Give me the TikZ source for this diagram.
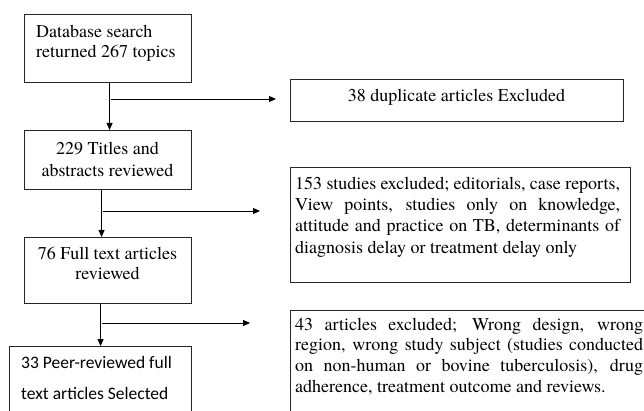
\documentclass[tikz,border=0pt]{standalone}
\usepackage{fontspec}
\setmainfont{texgyretermes}[Extension=.otf, UprightFont=*-regular, BoldFont=*-bold, ItalicFont=*-italic, BoldItalicFont=*-bolditalic]
\newfontfamily\tnrfont{texgyretermes}[Extension=.otf, UprightFont=*-regular]
\newfontfamily\calibfont{Carlito}
\usetikzlibrary{arrows.meta}
\begin{document}
\begin{tikzpicture}[x=1pt,y=-1pt,
  box/.style={draw=black!85, line width=1.1pt, inner sep=0pt, anchor=north west, rectangle},
  serif/.style={inner sep=0pt, font={\tnrfont\fontsize{18}{21}\selectfont}},
  arr/.style={draw=black, line width=0.9pt, -{Triangle[length=7pt,width=6pt]}}]
\useasboundingbox (0,0) rectangle (644,411);
\clip (0,0) rectangle (644,411);
\fill[white] (0,0) rectangle (644,411);

% boxes
\node[box, minimum width=167pt, minimum height=68pt] (b1) at (24,14) {};
\node[box, minimum width=333pt, minimum height=42pt] (b38) at (290,79) {};
\node[box, minimum width=167pt, minimum height=59pt] (b2) at (24,130) {};
\node[box, minimum width=340pt, minimum height=115pt] (b153) at (290,167) {};
\node[box, minimum width=167pt, minimum height=66pt] (b3) at (24,237) {};
\node[box, minimum width=370pt, minimum height=140pt] (b43) at (290,310) {};
\node[box, minimum width=182pt, minimum height=100pt] (b4) at (9,346) {};

% texts
\node[serif, font={\tnrfont\fontsize{18}{20}\selectfont}, anchor=north west, align=left] (t1) at (36,22)
  {\rule{0pt}{15pt}Database search\\returned 267 topics};
\node[serif, anchor=north] (t38) at (456.5,86.5)
  {\rule{0pt}{15pt}38 duplicate articles Excluded};
\node[serif, font={\tnrfont\fontsize{18}{22}\selectfont}, anchor=north, align=center] (t2) at (107.5,139)
  {\rule{0pt}{15pt}229 Titles and\\abstracts reviewed};
\node[serif, font={\tnrfont\fontsize{18}{21.3}\selectfont}, anchor=north west, text width=325pt, align=justify] (t153) at (295,174)
  {\rule{0pt}{15pt}153 studies excluded; editorials, case reports,\linebreak View points, studies only on knowledge,\linebreak attitude and practice on TB, determinants of\linebreak diagnosis delay or treatment delay only};
\node[serif, font={\tnrfont\fontsize{18}{20}\selectfont}, anchor=north, align=center] (t3) at (107.5,244)
  {\rule{0pt}{15pt}76 Full text articles\\reviewed};
\node[serif, font={\tnrfont\fontsize{18}{20.7}\selectfont}, anchor=north west, text width=348pt, align=justify] (t43) at (295,315)
  {\rule{0pt}{15pt}43 articles excluded; Wrong design, wrong\linebreak region, wrong study subject (studies conducted\linebreak on \mbox{non-human} or bovine tuberculosis), drug\linebreak adherence, treatment outcome and reviews.};
\node[inner sep=0pt, font={\calibfont\fontsize{17.5}{31}\selectfont}, anchor=north west, align=left] (t4) at (21,353)
  {\rule{0pt}{15pt}33 Peer-reviewed full\\text articles Selected};

% vertical arrows
\draw[arr] ([xshift=1.5pt]b1.south) -- ([xshift=1.5pt]b2.north);
\draw[arr] ([xshift=-6.5pt]b2.south) -- ([xshift=-6.5pt]b3.north);
\draw[arr] ([xshift=-7.5pt]b3.south) -- ([xshift=-7.5pt]b3.south |- b4.north);

% branch arrows
\coordinate (j1) at (111,99);
\coordinate (e1) at (276,99);
\coordinate (j2) at (103,211);
\coordinate (e2) at (260,211);
\coordinate (j3) at (102,323);
\coordinate (e3) at (250,323);
\draw[arr] (j1) -- (e1);
\draw[arr] (j2) -- (e2);
\draw[arr] (j3) -- (e3);
\end{tikzpicture}
\end{document}
